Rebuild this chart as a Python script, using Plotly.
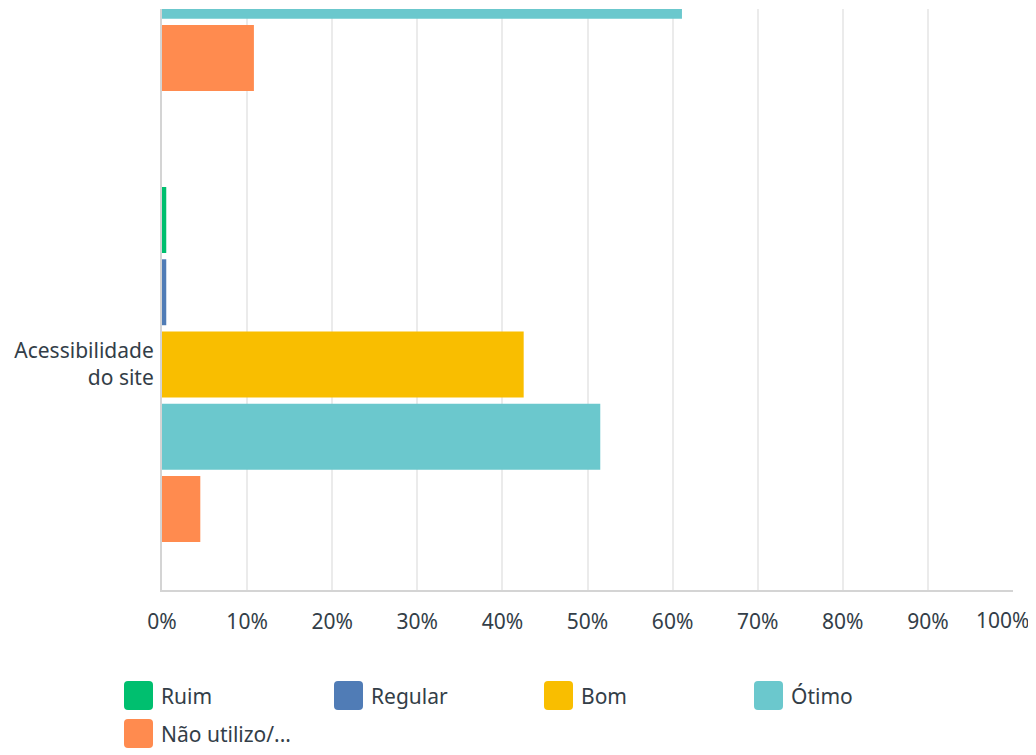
import plotly.graph_objects as go

categories = ["Facilidade de navegação", "Acessibilidade<br>do site"]
series_names = ["Ruim", "Regular", "Bom", "Ótimo", "Não utilizo/..."]
colors = ["#00bf6f", "#507cb6", "#f9be00", "#6bc8cd", "#ff8b4f"]
values = {
    "Ruim": [0.5, 0.5],
    "Regular": [0.5, 0.5],
    "Bom": [27.5, 42.5],
    "Ótimo": [61.1, 51.5],
    "Não utilizo/...": [10.8, 4.5],
}
x_ticks = list(range(0, 101, 10))
x_tick_text = [f"{t}%" for t in x_ticks]

# page body adds an 8px margin; compensate
OFF = 8
W, H = 1036 - OFF, 755 - OFF
L, R, T, B = 162 - OFF, 23, 9 - OFF, 165
pw, ph = W - L - R, H - T - B
TXT = "#333e48"
FONT = "Noto Sans"
FS = 21
CAT_PX = 451.0

fig = go.Figure()
for name, col in zip(series_names, colors):
    fig.add_trace(go.Bar(
        y=categories, x=values[name], name=name, orientation="h",
        marker=dict(color=col, line=dict(width=0)), showlegend=False,
        hovertemplate="%{x}%<extra>" + name + "</extra>",
    ))

fig.update_layout(
    width=W, height=H,
    margin=dict(l=L, r=R, t=T, b=B, autoexpand=False),
    paper_bgcolor="white", plot_bgcolor="white",
    barmode="group", bargap=0.199, bargroupgap=0.087,
    font=dict(family=FONT, size=FS, color=TXT),
    xaxis=dict(
        range=[0, 100], tickvals=x_ticks[:-1], ticktext=x_tick_text[:-1],
        showgrid=True, gridcolor="#ebebeb", gridwidth=2,
        showline=True, linecolor="#d4d4d4", linewidth=2,
        zeroline=False, ticks="", ticklabelstandoff=12,
        tickfont=dict(size=FS, color=TXT), fixedrange=True,
    ),
    yaxis=dict(
        categoryorder="array", categoryarray=categories,
        range=[1.5, 1.5 - ph / CAT_PX],
        showgrid=False, zeroline=False,
        showline=True, linecolor="#d4d4d4", linewidth=2,
        ticks="", ticklabelstandoff=2,
        tickfont=dict(size=FS, color=TXT), fixedrange=True,
    ),
)

# last x tick label, nudged inward so it fits like the reference
fig.add_annotation(x=x_ticks[-1], y=0, xref="x", yref="paper",
                   text=x_tick_text[-1], showarrow=False,
                   xanchor="center", yanchor="top", xshift=-10, yshift=-14,
                   font=dict(size=FS, color=TXT, family=FONT))

# custom legend
def px2x(px):
    return (px - OFF - L) / pw

def py2y(py):
    return (H - B - (py - OFF)) / ph

positions = [(124, 681), (334, 681), (544, 681), (754, 681), (124, 719)]
for (bx, by), name, col in zip(positions, series_names, colors):
    x0, x1 = px2x(bx), px2x(bx + 29)
    y1, y0 = py2y(by), py2y(by + 29)
    r = 4
    rx, ry = r / pw, r / ph
    path = (f"M {x0+rx},{y1} L {x1-rx},{y1} Q {x1},{y1} {x1},{y1-ry} "
            f"L {x1},{y0+ry} Q {x1},{y0} {x1-rx},{y0} L {x0+rx},{y0} "
            f"Q {x0},{y0} {x0},{y0+ry} L {x0},{y1-ry} Q {x0},{y1} {x0+rx},{y1} Z")
    fig.add_shape(type="path", path=path, xref="paper", yref="paper",
                  fillcolor=col, line=dict(width=0))
    fig.add_annotation(x=px2x(bx + 35), y=py2y(by + 15), xref="paper", yref="paper",
                       text=name, showarrow=False, xanchor="left", yanchor="middle",
                       font=dict(size=FS, color=TXT, family=FONT))

fig.write_html("out.html")
